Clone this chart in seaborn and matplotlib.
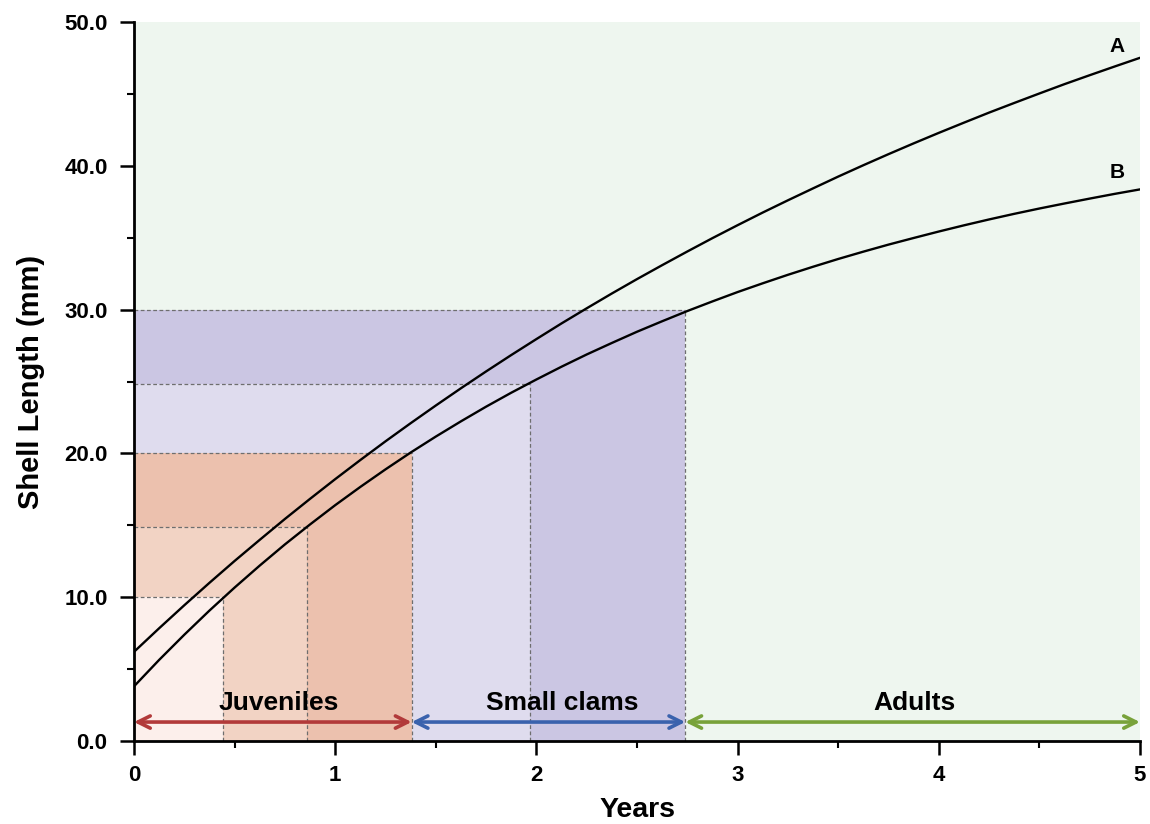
import numpy as np
import pandas as pd
import matplotlib
matplotlib.use("Agg")
import matplotlib.pyplot as plt
import seaborn as sns

# Growth curves (shell length in mm by age in years)
years = [0.0, 0.125, 0.25, 0.375, 0.5, 0.625, 0.75, 0.875, 1.0, 1.125, 1.25,
         1.375, 1.5, 1.625, 1.75, 1.875, 2.0, 2.125, 2.25, 2.375, 2.5,
         2.625, 2.75, 2.875, 3.0, 3.125, 3.25, 3.375, 3.5, 3.625, 3.75,
         3.875, 4.0, 4.125, 4.25, 4.375, 4.5, 4.625, 4.75, 4.875, 5.0]
length_a = [6.20, 7.84, 9.44, 11.00, 12.52, 13.99, 15.44, 16.84, 18.21, 19.54, 20.84,
            22.10, 23.33, 24.53, 25.70, 26.84, 27.95, 29.04, 30.09, 31.12, 32.12,
            33.09, 34.04, 34.97, 35.87, 36.75, 37.60, 38.43, 39.25, 40.04, 40.81,
            41.56, 42.29, 43.00, 43.70, 44.37, 45.03, 45.68, 46.30, 46.91, 47.51]
length_b = [3.80, 5.64, 7.39, 9.07, 10.67, 12.20, 13.67, 15.06, 16.40, 17.67, 18.89,
            20.06, 21.17, 22.23, 23.25, 24.22, 25.14, 26.03, 26.88, 27.68, 28.46,
            29.19, 29.90, 30.57, 31.22, 31.83, 32.42, 32.98, 33.52, 34.03, 34.52,
            34.98, 35.43, 35.86, 36.27, 36.66, 37.03, 37.38, 37.72, 38.05, 38.36]

# Size thresholds read along curve B, and the ages at which they are reached
size_marks = [10.0, 14.9, 20.0, 24.8, 30.0]
age_marks = [0.44, 0.86, 1.38, 1.97, 2.74]
band_colors = ["#fcefeb", "#f2d3c4", "#ecc1ae", "#dfdcee", "#cbc6e3"]

# Life stages
stage_names = ["Juveniles", "Small clams", "Adults"]
stage_bounds = [0.0, 1.38, 2.74, 5.0]
stage_label_x = [0.72, 2.13, 3.88]
stage_colors = ["#b23a3a", "#3a62ad", "#78a23a"]

sns.set_theme(style="ticks")
plt.rcParams["font.family"] = ["Liberation Sans", "DejaVu Sans"]
plt.rcParams["font.weight"] = "bold"
for key in ["text.color", "axes.labelcolor", "xtick.color", "ytick.color"]:
    plt.rcParams[key] = "black"

fig = plt.figure(figsize=(11.5, 8.24), dpi=100)
ax = fig.add_axes([0.1165, 0.1007, 0.8748, 0.8726])
ax.set_facecolor("#eef6ef")

# Nested shaded blocks, largest first
for age, size, col in sorted(zip(age_marks, size_marks, band_colors), reverse=True):
    ax.fill_between([0, age], 0, size, color=col, lw=0, zorder=1)
    ax.plot([0, age], [size, size], ls=(0, (3, 2)), color="#6e6e6e", lw=0.9, zorder=2)
    ax.plot([age, age], [0, size], ls=(0, (3, 2)), color="#6e6e6e", lw=0.9, zorder=2)

df = pd.DataFrame({"Years": years * 2,
                   "Length": length_a + length_b,
                   "Curve": ["A"] * len(years) + ["B"] * len(years)})
sns.lineplot(data=df, x="Years", y="Length", units="Curve", estimator=None,
             color="black", lw=1.7, ax=ax, zorder=4, legend=False)

ax.text(4.885, 48.3, "A", fontsize=15, fontweight="bold", ha="center", va="center", zorder=5)
ax.text(4.885, 39.5, "B", fontsize=15, fontweight="bold", ha="center", va="center", zorder=5)

# Stage arrows and labels
arrow_y = 1.32
for name, x0, x1, lx, col in zip(stage_names, stage_bounds[:-1], stage_bounds[1:],
                                 stage_label_x, stage_colors):
    ax.annotate("", xy=(x1, arrow_y), xytext=(x0, arrow_y),
                arrowprops=dict(arrowstyle="<->", color=col, lw=2.6,
                                mutation_scale=22, shrinkA=0, shrinkB=0),
                zorder=5)
    ax.text(lx, 2.64, name, fontsize=19, fontweight="bold",
            ha="center", va="center", zorder=5)

ax.set_xlim(0, 5)
ax.set_ylim(0, 50)
ax.set_xticks([0, 1, 2, 3, 4, 5])
ax.set_xticks([0.5, 1.5, 2.5, 3.5, 4.5], minor=True)
ax.set_yticks([0, 10, 20, 30, 40, 50])
ax.set_yticks([5, 15, 25, 35, 45], minor=True)
ax.set_yticklabels([f"{v:.1f}" for v in [0, 10, 20, 30, 40, 50]])
ax.tick_params(which="major", length=10, width=1.8, labelsize=16)
ax.tick_params(axis="y", which="major", pad=9)
ax.tick_params(axis="x", which="major", pad=7)
ax.tick_params(which="minor", length=5, width=1.5)
for lab in ax.get_xticklabels() + ax.get_yticklabels():
    lab.set_fontweight("bold")

for side in ["top", "right"]:
    ax.spines[side].set_visible(False)
for side in ["left", "bottom"]:
    ax.spines[side].set_linewidth(2)
    ax.spines[side].set_color("black")

ax.set_xlabel("Years", fontsize=20.5, fontweight="bold", labelpad=8)
ax.set_ylabel("Shell Length (mm)", fontsize=21, fontweight="bold", labelpad=14)

fig.savefig("out.png", dpi=100)
